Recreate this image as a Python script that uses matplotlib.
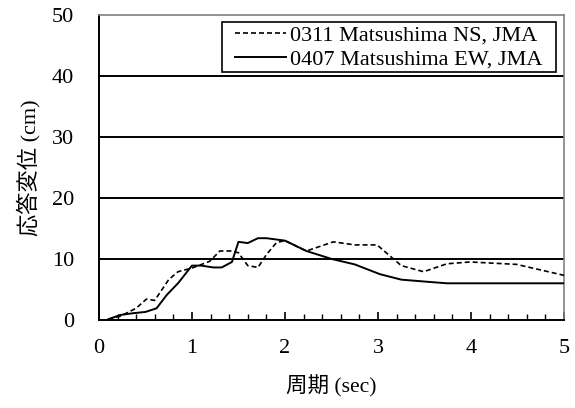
import numpy as np
import matplotlib.pyplot as plt
from matplotlib.patches import Rectangle
from matplotlib.transforms import IdentityTransform
from matplotlib.ticker import MultipleLocator

plt.rcParams['font.family'] = ['Liberation Serif', 'Noto Sans CJK JP']
plt.rcParams['font.size'] = 16

# response displacement spectra (period in sec, displacement in cm)
period_ns = [0.1, 0.23, 0.4, 0.51, 0.6, 0.75, 0.85, 1.0, 1.19, 1.3, 1.43, 1.5,
             1.6, 1.71, 1.8, 1.91, 2.0, 2.23, 2.52, 2.75, 2.99, 3.25, 3.49,
             3.74, 3.99, 4.24, 4.49, 5.0]
disp_ns = [0.1, 0.6, 1.9, 3.4, 3.2, 6.6, 7.9, 8.5, 9.6, 11.3, 11.3, 11.0,
           8.9, 8.6, 10.7, 12.7, 13.0, 11.3, 12.8, 12.3, 12.3, 8.9, 7.9,
           9.2, 9.5, 9.3, 9.1, 7.3]

period_ew = [0.1, 0.23, 0.37, 0.5, 0.62, 0.73, 0.85, 1.0, 1.1, 1.23, 1.32,
             1.43, 1.5, 1.6, 1.71, 1.8, 2.0, 2.23, 2.5, 2.75, 3.02, 3.25,
             3.49, 3.74, 5.0]
disp_ew = [0.1, 0.8, 1.1, 1.3, 1.9, 4.1, 6.0, 8.9, 8.9, 8.6, 8.6,
           9.5, 12.8, 12.6, 13.4, 13.4, 13.0, 11.3, 10.0, 9.1, 7.5, 6.6,
           6.3, 6.0, 6.0]

label_ns = '0311 Matsushima NS, JMA'
label_ew = '0407 Matsushima EW, JMA'

fig = plt.figure(figsize=(5.75, 4.08), dpi=100)
ax = fig.add_axes([0.172, 0.216, 0.809, 0.747])

for y in [10, 20, 30, 40]:
    ax.axhline(y, color='black', lw=1.4, zorder=1)

ax.plot(period_ns, disp_ns, color='black', lw=1.2, ls=(0, (3, 1.8)),
        label=label_ns, zorder=3)
ax.plot(period_ew, disp_ew, color='black', lw=1.4, label=label_ew, zorder=3)

ax.set_xlim(0, 5)
ax.set_ylim(0, 50)
ax.xaxis.set_major_locator(MultipleLocator(1))
ax.xaxis.set_minor_locator(MultipleLocator(0.2))
ax.yaxis.set_major_locator(MultipleLocator(10))
ax.tick_params(axis='x', which='major', direction='in', length=6, width=1.2,
               pad=14)
ax.tick_params(axis='x', which='minor', direction='in', length=4, width=1)
ax.tick_params(axis='y', length=0, pad=18)

for side in ['left', 'bottom']:
    ax.spines[side].set_color('black')
    ax.spines[side].set_linewidth(1.4)
for side in ['top', 'right']:
    ax.spines[side].set_color('#808080')
    ax.spines[side].set_linewidth(1.2)

ax.set_xlabel('周期 (sec)', labelpad=12, fontsize=15.5)
ax.set_ylabel('応答変位 (cm)', labelpad=8, fontsize=16)

# legend without its own frame; a wider white box is drawn behind it
leg = ax.legend(loc='upper right', bbox_to_anchor=(543 / 575, 1 - 25 / 408),
                bbox_transform=fig.transFigure, frameon=False,
                borderpad=0, labelspacing=0.15, handlelength=2.3,
                handletextpad=0.2, borderaxespad=0)
leg.set_zorder(6)

fig.canvas.draw()
bb = leg.get_window_extent()
pad_x, pad_y = 13, 3
box = Rectangle((bb.x0 - pad_x, bb.y0 - pad_y), bb.width + 2 * pad_x,
                bb.height + 2 * pad_y, transform=IdentityTransform(),
                facecolor='white', edgecolor='black', lw=1.2, zorder=5)
ax.add_artist(box)

fig.savefig('out.png', dpi=100)
